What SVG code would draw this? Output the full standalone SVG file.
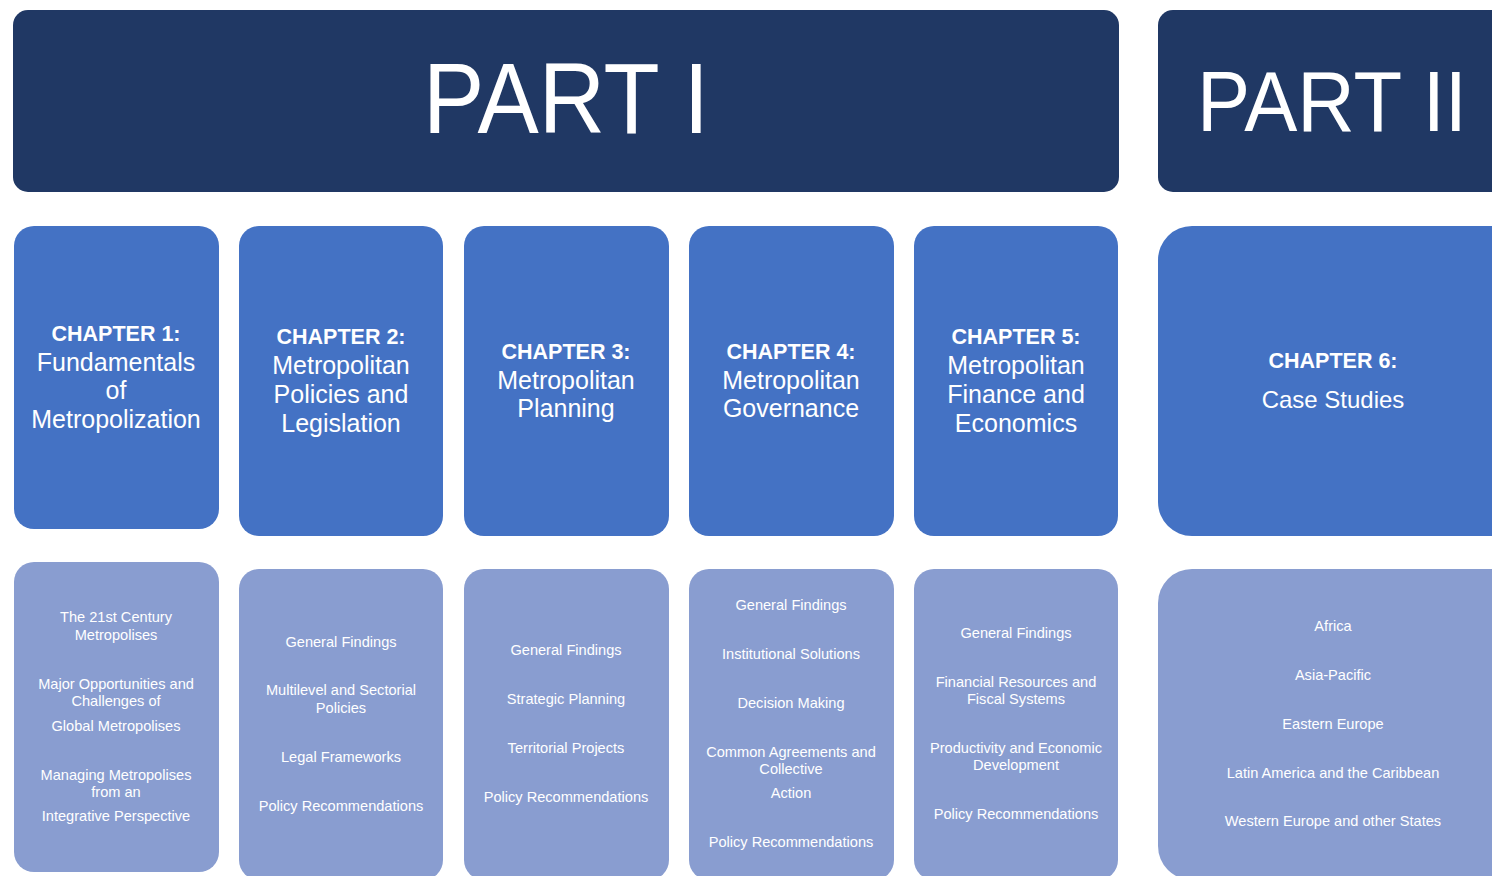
<svg xmlns="http://www.w3.org/2000/svg" width="1492" height="876" viewBox="0 0 1492 876">
<style>
.part{fill:#203864}
.chap{fill:#4472C4}
.sub{fill:#899DD0}
text{font-family:"Liberation Sans",Arial,sans-serif;fill:#fff;text-anchor:middle}
.pt{font-size:100px}
.cb{font-size:21.5px;font-weight:bold}
.cn{font-size:25px}
.s{font-size:14.6px}
</style>
<rect width="1492" height="876" fill="#fff"/>
<g id="part1">
<rect class="part" x="13" y="10" width="1106" height="182" rx="15"/>
<text class="pt" x="566" y="133" textLength="286" lengthAdjust="spacingAndGlyphs">PART I</text>
</g>
<g id="part2">
<path class="part" d="M1173,10 H1492 V192 H1173 A15,15 0 0 1 1158,177 V25 A15,15 0 0 1 1173,10 Z"/>
<text class="pt" x="1332" y="131" style="font-size:86px" textLength="270" lengthAdjust="spacingAndGlyphs">PART II</text>
</g>
<g id="ch1">
<rect class="chap" x="14" y="226" width="205" height="303" rx="20"/>
<text class="cb" x="116" y="341">CHAPTER 1:</text>
<text class="cn" x="116" y="371">Fundamentals</text>
<text class="cn" x="116" y="399">of</text>
<text class="cn" x="116" y="428">Metropolization</text>
</g>
<g id="ch2">
<rect class="chap" x="239" y="226" width="204" height="310" rx="20"/>
<text class="cb" x="341" y="344">CHAPTER 2:</text>
<text class="cn" x="341" y="374">Metropolitan</text>
<text class="cn" x="341" y="403">Policies and</text>
<text class="cn" x="341" y="432">Legislation</text>
</g>
<g id="ch3">
<rect class="chap" x="464" y="226" width="205" height="310" rx="20"/>
<text class="cb" x="566" y="359">CHAPTER 3:</text>
<text class="cn" x="566" y="389">Metropolitan</text>
<text class="cn" x="566" y="417">Planning</text>
</g>
<g id="ch4">
<rect class="chap" x="689" y="226" width="205" height="310" rx="20"/>
<text class="cb" x="791" y="359">CHAPTER 4:</text>
<text class="cn" x="791" y="389">Metropolitan</text>
<text class="cn" x="791" y="417">Governance</text>
</g>
<g id="ch5">
<rect class="chap" x="914" y="226" width="204" height="310" rx="20"/>
<text class="cb" x="1016" y="344">CHAPTER 5:</text>
<text class="cn" x="1016" y="374">Metropolitan</text>
<text class="cn" x="1016" y="403">Finance and</text>
<text class="cn" x="1016" y="432">Economics</text>
</g>
<g id="ch6">
<path class="chap" d="M1192,226 H1492 V536 H1192 A34,34 0 0 1 1158,502 V260 A34,34 0 0 1 1192,226 Z"/>
<text class="cb" x="1333" y="368">CHAPTER 6:</text>
<text class="cn" x="1333" y="408" style="font-size:24px">Case Studies</text>
</g>
<g id="sub1">
<rect class="sub" x="14" y="562" width="205" height="310" rx="20"/>
<text class="s" x="116" y="622">The 21st Century</text>
<text class="s" x="116" y="640">Metropolises</text>
<text class="s" x="116" y="689">Major Opportunities and</text>
<text class="s" x="116" y="706">Challenges of</text>
<text class="s" x="116" y="731">Global Metropolises</text>
<text class="s" x="116" y="780">Managing Metropolises</text>
<text class="s" x="116" y="797">from an</text>
<text class="s" x="116" y="821">Integrative Perspective</text>
</g>
<g id="sub2">
<rect class="sub" x="239" y="569" width="204" height="311" rx="20"/>
<text class="s" x="341" y="647">General Findings</text>
<text class="s" x="341" y="695">Multilevel and Sectorial</text>
<text class="s" x="341" y="713">Policies</text>
<text class="s" x="341" y="762">Legal Frameworks</text>
<text class="s" x="341" y="811">Policy Recommendations</text>
</g>
<g id="sub3">
<rect class="sub" x="464" y="569" width="205" height="311" rx="20"/>
<text class="s" x="566" y="655">General Findings</text>
<text class="s" x="566" y="704">Strategic Planning</text>
<text class="s" x="566" y="753">Territorial Projects</text>
<text class="s" x="566" y="802">Policy Recommendations</text>
</g>
<g id="sub4">
<rect class="sub" x="689" y="569" width="205" height="311" rx="20"/>
<text class="s" x="791" y="610">General Findings</text>
<text class="s" x="791" y="659">Institutional Solutions</text>
<text class="s" x="791" y="708">Decision Making</text>
<text class="s" x="791" y="757">Common Agreements and</text>
<text class="s" x="791" y="774">Collective</text>
<text class="s" x="791" y="798">Action</text>
<text class="s" x="791" y="847">Policy Recommendations</text>
</g>
<g id="sub5">
<rect class="sub" x="914" y="569" width="204" height="311" rx="20"/>
<text class="s" x="1016" y="638">General Findings</text>
<text class="s" x="1016" y="687">Financial Resources and</text>
<text class="s" x="1016" y="704">Fiscal Systems</text>
<text class="s" x="1016" y="753">Productivity and Economic</text>
<text class="s" x="1016" y="770">Development</text>
<text class="s" x="1016" y="819">Policy Recommendations</text>
</g>
<g id="sub6">
<path class="sub" d="M1192,569 H1492 V880 H1192 A34,34 0 0 1 1158,846 V603 A34,34 0 0 1 1192,569 Z"/>
<text class="s" x="1333" y="631">Africa</text>
<text class="s" x="1333" y="680">Asia-Pacific</text>
<text class="s" x="1333" y="729">Eastern Europe</text>
<text class="s" x="1333" y="778">Latin America and the Caribbean</text>
<text class="s" x="1333" y="826">Western Europe and other States</text>
</g>
<g id="connectors"></g>
</svg>
